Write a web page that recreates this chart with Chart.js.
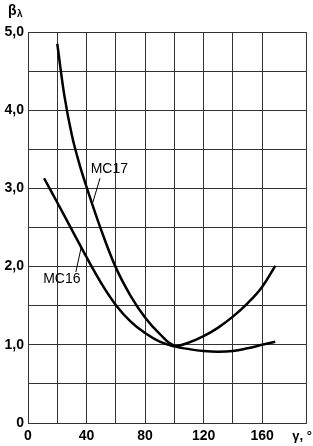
<!DOCTYPE html>
<html>
<head>
<meta charset="utf-8">
<script src="https://cdn.jsdelivr.net/npm/chart.js@4"></script>
<style>
  html, body { margin: 0; padding: 0; background: #fff; }
  #wrap { width: 313px; height: 446px; }
</style>
</head>
<body>
<div id="wrap"><canvas id="chart"></canvas></div>
<script>
/* Values */
var mc17X = [20, 25, 30, 35, 40, 50, 60, 70, 80, 90, 100, 110, 120, 130, 140, 150, 160, 169];
var mc17Y = [4.85, 4.17, 3.68, 3.32, 3.02, 2.47, 1.99, 1.63, 1.35, 1.14, 0.99, 1.03, 1.11, 1.22, 1.36, 1.53, 1.74, 2.01];
var mc16X = [11, 20, 30, 40, 50, 60, 70, 80, 90, 100, 110, 120, 130, 140, 150, 160, 169];
var mc16Y = [3.13, 2.82, 2.47, 2.12, 1.79, 1.51, 1.30, 1.15, 1.04, 0.98, 0.945, 0.92, 0.91, 0.92, 0.955, 1.00, 1.04];
var xTickLabels = { 0: '0', 40: '40', 80: '80', 120: '120', 160: '160' };
var yTickLabels = { 0: '0', 1: '1,0', 2: '2,0', 3: '3,0', 4: '4,0', 5: '5,0' };
var xUnitLabel = 'γ, °';

/* Curve labels with leader lines, in data coordinates */
var curveLabels = [
  { text: 'MC17', x: 55.6, y: 3.25, from: [49.2, 3.13], to: [44.3, 2.82] },
  { text: 'MC16', x: 23.1, y: 1.84, from: [32.7, 1.93], to: [36.4, 2.25] }
];

function toPoints(xs, ys) {
  return xs.map(function(x, i) { return { x: x, y: ys[i] }; });
}

var FONT = "'Liberation Sans', Arial, sans-serif";

var annotatePlugin = {
  id: 'annotate',
  afterDraw: function(chart) {
    var ctx = chart.ctx;
    var xs = chart.scales.x, ys = chart.scales.y;
    ctx.save();
    ctx.fillStyle = '#000';
    ctx.strokeStyle = '#000';
    /* curve labels */
    curveLabels.forEach(function(l) {
      ctx.font = '14px ' + FONT;
      ctx.textAlign = 'center';
      ctx.textBaseline = 'middle';
      ctx.fillText(l.text, xs.getPixelForValue(l.x), ys.getPixelForValue(l.y));
      ctx.lineWidth = 1;
      ctx.beginPath();
      ctx.moveTo(xs.getPixelForValue(l.from[0]), ys.getPixelForValue(l.from[1]));
      ctx.lineTo(xs.getPixelForValue(l.to[0]), ys.getPixelForValue(l.to[1]));
      ctx.stroke();
    });
    /* x unit label next to the last grid line */
    ctx.font = 'bold 13px ' + FONT;
    ctx.textAlign = 'left';
    ctx.textBaseline = 'middle';
    ctx.fillText(xUnitLabel, xs.getPixelForValue(180) + 1, xs.top + 13);
    /* y axis title: beta with lambda subscript */
    ctx.font = 'bold 14px ' + FONT;
    ctx.fillText('β', 8, 11);
    ctx.font = 'bold 10px ' + FONT;
    ctx.fillText('λ', 17, 14);
    ctx.restore();
  }
};

new Chart(document.getElementById('chart'), {
  type: 'line',
  data: {
    datasets: [
      {
        label: 'MC17',
        data: toPoints(mc17X, mc17Y),
        borderColor: '#000',
        borderWidth: 2.5,
        pointRadius: 0,
        tension: 0.4,
        fill: false
      },
      {
        label: 'MC16',
        data: toPoints(mc16X, mc16Y),
        borderColor: '#000',
        borderWidth: 2.5,
        pointRadius: 0,
        tension: 0.4,
        fill: false
      }
    ]
  },
  options: {
    responsive: true,
    maintainAspectRatio: false,
    animation: false,
    layout: { padding: { top: 32, right: 7, left: 0, bottom: 0 } },
    plugins: {
      legend: { display: false },
      tooltip: { enabled: false }
    },
    scales: {
      x: {
        type: 'linear',
        min: 0,
        max: 190,
        ticks: {
          stepSize: 20,
          color: '#000',
          padding: 5,
          maxRotation: 0,
          autoSkip: false,
          font: { family: FONT, size: 14, weight: 'bold' },
          callback: function(v) { return xTickLabels[v] !== undefined ? xTickLabels[v] : ''; }
        },
        grid: { color: '#333', lineWidth: 1, drawTicks: false },
        border: { color: '#333', width: 1 },
        afterFit: function(scale) { scale.height = 23; }
      },
      y: {
        min: 0,
        max: 5,
        ticks: {
          stepSize: 0.5,
          color: '#000',
          padding: 4,
          autoSkip: false,
          font: { family: FONT, size: 14, weight: 'bold' },
          callback: function(v) { return yTickLabels[v] !== undefined ? yTickLabels[v] : ''; }
        },
        grid: { color: '#333', lineWidth: 1, drawTicks: false },
        border: { color: '#333', width: 1 },
        afterFit: function(scale) { scale.width = 28; }
      }
    }
  },
  plugins: [annotatePlugin]
});
</script>
</body>
</html>
